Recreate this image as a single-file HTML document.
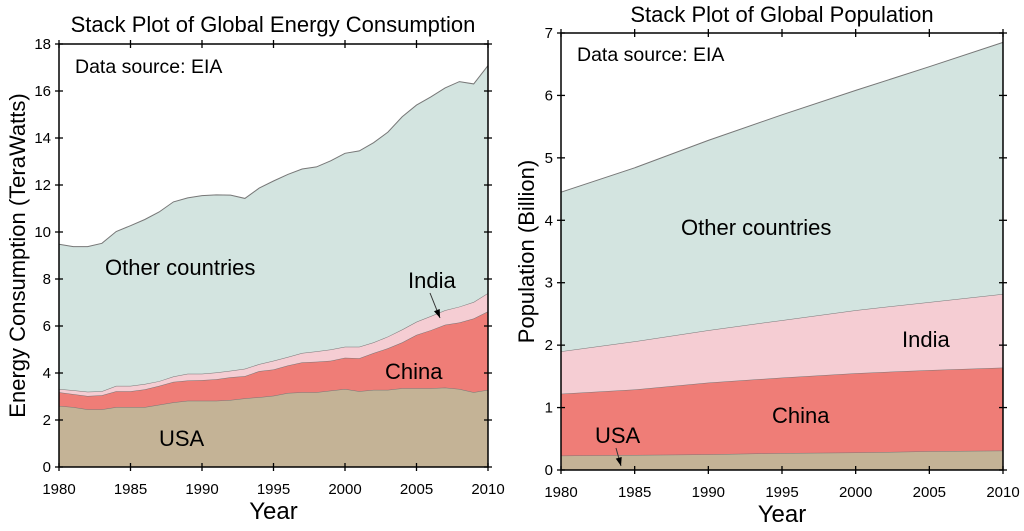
<!DOCTYPE html>
<html><head><meta charset="utf-8"><style>
body{margin:0;background:#fff;}
svg{display:block;font-family:"Liberation Sans",Arial,sans-serif;}
</style></head><body>
<svg id="s" width="1024" height="531" viewBox="0 0 1024 531"></svg>
<script>
const eYears=[];for(let y=1980;y<=2010;y++)eYears.push(y);
const eUsaTop=[2.6,2.55,2.45,2.45,2.55,2.55,2.55,2.65,2.75,2.82,2.82,2.82,2.85,2.92,2.97,3.03,3.15,3.18,3.18,3.25,3.32,3.22,3.28,3.28,3.35,3.35,3.35,3.38,3.32,3.18,3.28];
const eChinaTop=[3.18,3.1,3.02,3.05,3.22,3.22,3.3,3.45,3.62,3.68,3.7,3.73,3.82,3.87,4.08,4.15,4.32,4.45,4.48,4.52,4.65,4.63,4.85,5.05,5.3,5.62,5.82,6.05,6.15,6.32,6.62];
const eIndiaTop=[3.32,3.27,3.2,3.22,3.45,3.45,3.53,3.65,3.85,3.97,3.97,4.02,4.1,4.18,4.38,4.52,4.68,4.85,4.92,5.0,5.12,5.12,5.3,5.55,5.85,6.18,6.42,6.67,6.82,7.02,7.4];
const eTotalTop=[9.48,9.38,9.38,9.52,10.02,10.27,10.53,10.85,11.28,11.45,11.55,11.58,11.57,11.43,11.87,12.17,12.45,12.68,12.77,13.03,13.35,13.45,13.8,14.25,14.9,15.4,15.75,16.13,16.4,16.3,17.08];
const pYears=[1980,1985,1990,1995,2000,2005,2010];
const pUsaTop=[0.23,0.24,0.25,0.27,0.28,0.30,0.31];
const pChinaTop=[1.22,1.29,1.40,1.48,1.55,1.60,1.64];
const pIndiaTop=[1.90,2.06,2.24,2.40,2.56,2.69,2.82];
const pTotalTop=[4.45,4.84,5.28,5.69,6.08,6.46,6.85];
const xTicks=[1980,1985,1990,1995,2000,2005,2010];
const eYTicks=[0,2,4,6,8,10,12,14,16,18];
const pYTicks=[0,1,2,3,4,5,6,7];
const colors=['#c4b396','#ef7d77','#f5cdd3','#d3e4e0'];
const names=['usa','china','india','other'];
const NS='http://www.w3.org/2000/svg';
const svg=document.getElementById('s');
function mk(t,a,p){const e=document.createElementNS(NS,t);for(const k in a)e.setAttribute(k,a[k]);(p||svg).appendChild(e);return e;}
function txt(x,y,s,size,anchor,p){const e=mk('text',{x:x,y:y,'font-size':size,'text-anchor':anchor||'start',fill:'#000'},p);e.textContent=s;return e;}
function chart(cfg){
  const g=mk('g',{});
  
  
  const X=v=>cfg.x0+(v-1980)/30*(cfg.x1-cfg.x0);
  const Y=v=>cfg.y0-(v/cfg.ymax)*(cfg.y0-cfg.y1);
  const layers=[cfg.years.map(()=>0)].concat(cfg.tops);
  for(let i=1;i<layers.length;i++){
    let d='';
    cfg.years.forEach((yr,j)=>{d+=(j?'L':'M')+X(yr).toFixed(1)+','+Y(layers[i][j]).toFixed(1);});
    for(let j=cfg.years.length-1;j>=0;j--)d+='L'+X(cfg.years[j]).toFixed(1)+','+Y(layers[i-1][j]).toFixed(1);
    const p=mk('path',{d:d+'Z',fill:colors[i-1],stroke:'none'},g);
    
    
    let l='';cfg.years.forEach((yr,j)=>{l+=(j?'L':'M')+X(yr).toFixed(1)+','+Y(layers[i][j]).toFixed(1);});
    mk('path',{d:l,fill:'none',stroke:'#777','stroke-width':1},g);
  }
  const fr=mk('rect',{x:cfg.x0,y:cfg.y1,width:cfg.x1-cfg.x0,height:cfg.y0-cfg.y1,fill:'none',stroke:'#000','stroke-width':1.5},g);
  
  
  xTicks.forEach(t=>{const x=X(t);
    mk('line',{x1:x,x2:x,y1:cfg.y0-4,y2:cfg.y0+4,stroke:'#000','stroke-width':1.3},g);
    mk('line',{x1:x,x2:x,y1:cfg.y1-4,y2:cfg.y1+4,stroke:'#000','stroke-width':1.3},g);
    const tl=txt(x,cfg.y0+27,String(t),15,'middle',g);
    
    
  });
  cfg.yTicks.forEach(t=>{const y=Y(t);
    mk('line',{x1:cfg.x0-4,x2:cfg.x0+4,y1:y,y2:y,stroke:'#000','stroke-width':1.3},g);
    mk('line',{x1:cfg.x1-4,x2:cfg.x1+4,y1:y,y2:y,stroke:'#000','stroke-width':1.3},g);
    const tl=txt(cfg.x0-8,y+5,String(t),15,'end',g);
    
    
  });
  const tt=txt(cfg.titleX,cfg.titleY,cfg.title,22,'middle',g);
  
  
  const xt=txt((cfg.x0+cfg.x1)/2,cfg.y0+52,'Year',24,'middle',g);
  
  
  const yt=txt(0,0,cfg.ytitle,22,'middle',g);
  yt.setAttribute('transform','translate('+cfg.ytx+','+((cfg.y0+cfg.y1)/2)+') rotate(-90)');
  
  
  const ds=txt(cfg.x0+16,cfg.dsY,'Data source: EIA',19.5,'start',g);
  
  
  cfg.labels.forEach(L=>{const e=txt(L[1],L[2],L[0],22,'start',g);
    
    });
  const a=cfg.arrow;
  mk('line',{x1:a[0],y1:a[1],x2:a[2],y2:a[3],stroke:'#333','stroke-width':1},g);
  const ang=Math.atan2(a[3]-a[1],a[2]-a[0]);
  const hx=a[2],hy=a[3],s=9;
  const p1=[hx-s*Math.cos(ang-0.35),hy-s*Math.sin(ang-0.35)],p2=[hx-s*Math.cos(ang+0.35),hy-s*Math.sin(ang+0.35)];
  const ah=mk('path',{d:'M'+hx+','+hy+'L'+p1.join(',')+'L'+p2.join(',')+'Z',fill:'#000'},g);
  
  
}
chart({name:'energy-chart',x0:59,x1:488,y0:467,y1:44,ymax:18,years:eYears,tops:[eUsaTop,eChinaTop,eIndiaTop,eTotalTop],
  yTicks:eYTicks,title:'Stack Plot of Global Energy Consumption',titleX:273,titleY:32,ytitle:'Energy Consumption (TeraWatts)',ytx:25,dsY:73,
  labels:[['Other countries',105,275],['India',408,288],['China',385,379],['USA',159,446]],arrow:[430,293,440,318]});
chart({name:'population-chart',x0:561,x1:1003,y0:470,y1:33,ymax:7,years:pYears,tops:[pUsaTop,pChinaTop,pIndiaTop,pTotalTop],
  yTicks:pYTicks,title:'Stack Plot of Global Population',titleX:782,titleY:22,ytitle:'Population (Billion)',ytx:534,dsY:61,
  labels:[['Other countries',681,235],['India',902,347],['China',772,423],['USA',595,443]],arrow:[616,448,621,466]});
</script>
</body></html>
